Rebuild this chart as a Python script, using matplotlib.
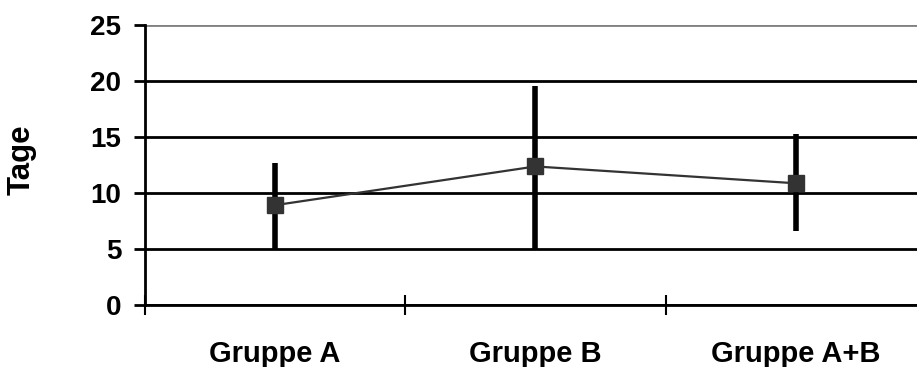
import numpy as np
import matplotlib.pyplot as plt

plt.rcParams['font.family'] = ['Liberation Sans', 'DejaVu Sans']
plt.rcParams['font.weight'] = 'bold'

groups = ['Gruppe A', 'Gruppe B', 'Gruppe A+B']
mean_days = [8.9, 12.35, 10.85]
low_days = [5.0, 5.0, 6.6]
high_days = [12.7, 19.55, 15.2]

x = np.arange(len(groups))
mean = np.array(mean_days)
yerr = [mean - np.array(low_days), np.array(high_days) - mean]

fig = plt.figure(figsize=(9.17, 3.67), dpi=100)
ax = fig.add_axes([0.1581, 0.1689, 0.8517, 0.7643])

# whiskers first, line and markers on top
ax.errorbar(x, mean, yerr=yerr, fmt='none', ecolor='black', elinewidth=4,
            capsize=0, zorder=3)
ax.plot(x, mean, color='#333333', linewidth=1.6, marker='s', markersize=12,
        markerfacecolor='#333333', markeredgecolor='#333333', zorder=4)

ax.set_xlim(-0.5, len(groups) - 0.5)
ax.set_ylim(0, 25)
ax.set_yticks(np.arange(0, 26, 5))

# category boundaries carry the ticks, labels sit between them
ax.set_xticks(np.arange(-0.5, len(groups), 1.0))
ax.set_xticklabels([])
ax.set_xticks(x, minor=True)
ax.set_xticklabels(groups, minor=True, fontsize=21, fontweight='bold')
ax.tick_params(axis='x', which='major', direction='inout', length=14,
               width=1.5, color='black')
ax.tick_params(axis='x', which='minor', length=0, pad=25)
ax.tick_params(axis='y', direction='out', length=8, width=2, pad=9,
               labelsize=20)

for side in ['top', 'right']:
    ax.spines[side].set_visible(False)
for side in ['left', 'bottom']:
    ax.spines[side].set_linewidth(2)
    ax.spines[side].set_color('black')

ax.yaxis.grid(True, color='black', linewidth=2)
gl = ax.get_ygridlines()
gl[-1].set_color('#808080')
ax.set_axisbelow(True)

ax.set_ylabel('Tage', fontsize=22.5, fontweight='bold', va='center')
ax.yaxis.set_label_coords(-0.158, 0.517)

fig.savefig('out.png', dpi=100)
